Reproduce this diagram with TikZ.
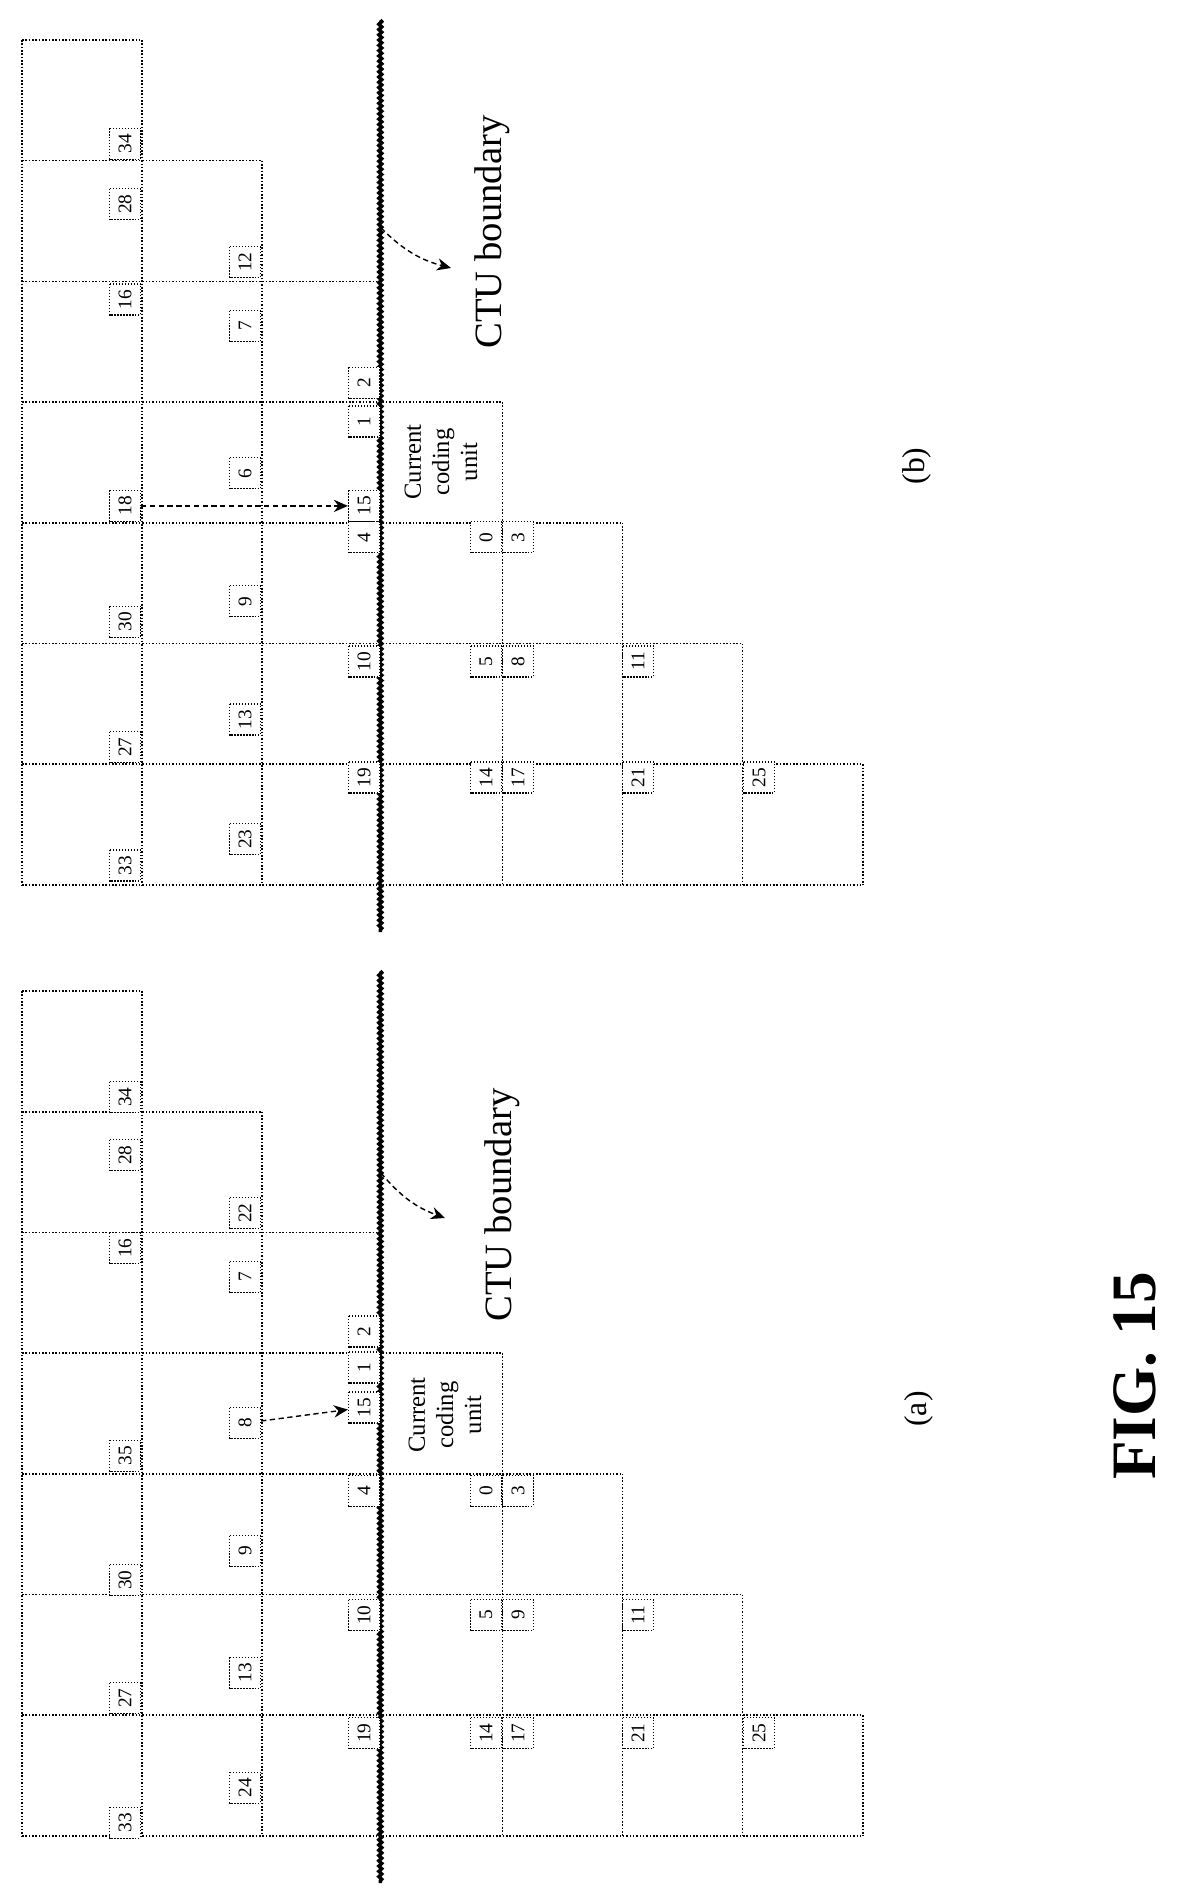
\documentclass[tikz,border=0pt]{standalone}
\usepackage{fontspec}
\setmainfont{Liberation Serif}
\usetikzlibrary{decorations.pathmorphing,arrows.meta}
\tikzset{
  grid/.style={densely dotted, line width=0.9pt},
  ctu/.style={line width=2pt, decorate, decoration={snake, segment length=3pt, amplitude=0.8pt}},
  lab/.style={draw, densely dotted, line width=0.7pt, fill=white, minimum width=0.62cm, minimum height=0.62cm, inner sep=0pt, rotate=90, font=\fontsize{11}{11}\selectfont},
  txt/.style={rotate=90, align=center},
  ptr/.style={densely dashed, line width=0.8pt, -{Stealth[length=8pt,width=7pt]}},
}
\newcommand{\panel}[2]{%
  % #1 = Y0, #2 = prefix
  \foreach \k in {0,...,7}{
    \pgfmathsetmacro{\yy}{#1+120.7*\k}
    \pgfmathtruncatemacro{\r}{min(\k+1,7)}
    \pgfmathsetmacro{\xe}{22+120.1*\r}
    \draw[grid] (22,\yy) -- (\xe,\yy);
  }
  \foreach \r in {0,1,2,4,5,6,7}{
    \pgfmathsetmacro{\xx}{22+120.1*\r}
    \pgfmathtruncatemacro{\s}{max(\r-1,0)}
    \pgfmathsetmacro{\ys}{#1+120.7*\s}
    \draw[grid] (\xx,\ys) -- (\xx,#1+844.9);
  }
  \draw[grid] (380.3,#1+241.4) -- (380.3,#1+844.9);
  \draw[ctu] (380.3,#1-20) -- (380.3,#1+892);
}
\newcommand{\lab}[5]{% name, x, Y0, t, text
  \node[lab] (#1) at (#2,{#3+120.7*#4}) {#5};
}
\begin{document}
\begin{tikzpicture}[x=0.02cm,y=-0.02cm]
\useasboundingbox (0,0) rectangle (1178,1892);
% ---------- panel (b) ----------
\panel{40}{b}
\foreach \n/\t in {b34/0.86, b28/1.36, b16/2.15, b18/3.86, b30/4.82, b27/5.86, b33/6.84}{}
\lab{b0a}{125}{40}{0.86}{34}
\lab{b0b}{125}{40}{1.36}{28}
\lab{b0c}{125}{40}{2.15}{16}
\lab{b0d}{125}{40}{3.86}{18}
\lab{b0e}{125}{40}{4.82}{30}
\lab{b0f}{125}{40}{5.86}{27}
\lab{b0g}{125}{40}{6.84}{33}
\lab{b1a}{245}{40}{1.84}{12}
\lab{b1b}{245}{40}{2.37}{7}
\lab{b1c}{245}{40}{3.59}{6}
\lab{b1d}{245}{40}{4.65}{9}
\lab{b1e}{245}{40}{5.63}{13}
\lab{b1f}{245}{40}{6.62}{23}
\lab{b2a}{364}{40}{2.84}{2}
\lab{b2b}{364}{40}{3.16}{1}
\lab{b2c}{364}{40}{3.86}{15}
\lab{b2d}{364}{40}{4.12}{4}
\lab{b2e}{364}{40}{5.15}{10}
\lab{b2f}{364}{40}{6.11}{19}
\lab{b3a}{486}{40}{4.12}{0}
\lab{b3b}{518}{40}{4.12}{3}
\lab{b3c}{486}{40}{5.15}{5}
\lab{b3d}{518}{40}{5.15}{8}
\lab{b3e}{486}{40}{6.11}{14}
\lab{b3f}{518}{40}{6.11}{17}
\lab{b4a}{638}{40}{5.15}{11}
\lab{b4b}{638}{40}{6.11}{21}
\lab{b5a}{759}{40}{6.11}{25}
\draw[ptr] (b0d) -- (b2c);
\node[txt, font=\fontsize{14}{16}\selectfont] (bcu) at (441,462) {Current\\coding\\unit};
\node[txt, font=\fontsize{22}{24}\selectfont] (bctu) at (492,232) {CTU boundary};
\coordinate (bctuA) at (381,228);
\coordinate (bctuB) at (451,268);
\draw[ptr] (bctuA) to[bend right=15] (bctuB);
\node[txt, font=\fontsize{18}{20}\selectfont] (blab) at (917,466) {(b)};
% ---------- panel (a) ----------
\panel{991}{a}
\lab{a0a}{125}{991}{0.88}{34}
\lab{a0b}{125}{991}{1.36}{28}
\lab{a0c}{125}{991}{2.13}{16}
\lab{a0d}{125}{991}{3.85}{35}
\lab{a0e}{125}{991}{4.88}{30}
\lab{a0f}{125}{991}{5.86}{27}
\lab{a0g}{125}{991}{6.89}{33}
\lab{a1a}{245}{991}{1.84}{22}
\lab{a1b}{245}{991}{2.37}{7}
\lab{a1c}{245}{991}{3.58}{8}
\lab{a1d}{245}{991}{4.64}{9}
\lab{a1e}{245}{991}{5.65}{13}
\lab{a1f}{245}{991}{6.60}{24}
\lab{a2a}{364}{991}{2.82}{2}
\lab{a2b}{364}{991}{3.12}{1}
\lab{a2c}{364}{991}{3.45}{15}
\lab{a2d}{364}{991}{4.14}{4}
\lab{a2e}{364}{991}{5.17}{10}
\lab{a2f}{364}{991}{6.15}{19}
\lab{a3a}{486}{991}{4.14}{0}
\lab{a3b}{518}{991}{4.14}{3}
\lab{a3c}{486}{991}{5.17}{5}
\lab{a3d}{518}{991}{5.17}{9}
\lab{a3e}{486}{991}{6.15}{14}
\lab{a3f}{518}{991}{6.15}{17}
\lab{a4a}{638}{991}{5.17}{11}
\lab{a4b}{638}{991}{6.15}{21}
\lab{a5a}{759}{991}{6.15}{25}
\draw[ptr] (a1c) -- (a2c);
\node[txt, font=\fontsize{14}{16}\selectfont] (acu) at (445,1415) {Current\\coding\\unit};
\node[txt, font=\fontsize{22}{24}\selectfont] (actu) at (502,1205) {CTU boundary};
\coordinate (actuA) at (381,1173);
\coordinate (actuB) at (445,1218);
\draw[ptr] (actuA) to[bend right=15] (actuB);
\node[txt, font=\fontsize{18}{20}\selectfont] (alab) at (919,1409) {(a)};
% ---------- caption ----------
\node[txt, font=\fontsize{36}{40}\bfseries\selectfont] (fig) at (1135,1376) {FIG. 15};
\end{tikzpicture}
\end{document}
